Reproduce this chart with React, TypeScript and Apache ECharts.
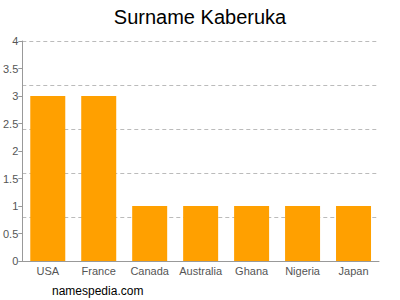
import React, { useEffect, useRef } from "react";
import * as echarts from "echarts";

const categories = ["USA", "France", "Canada", "Australia", "Ghana", "Nigeria", "Japan"];
const values = [3, 3, 1, 1, 1, 1, 1];
const titleText = "Surname Kaberuka";
const footerText = "namespedia.com";

export default function App() {
  const ref = useRef<HTMLDivElement>(null);
  useEffect(() => {
    if (!ref.current) return;
    const chart = echarts.init(ref.current, null, { renderer: "svg" });
    const font = "Liberation Sans, Arial, sans-serif";
    chart.setOption({
      animation: false,
      title: {
        text: titleText,
        left: "center",
        top: 2,
        textStyle: { fontFamily: font, fontSize: 20, fontWeight: "normal", color: "#000" },
      },
      graphic: [
        {
          type: "text",
          left: 52,
          top: 285,
          style: { text: footerText, fontFamily: font, fontSize: 12, fill: "#000" },
        },
      ],
      grid: { left: 21, right: 21, top: 41, bottom: 39, containLabel: false },
      xAxis: {
        type: "category",
        data: categories,
        axisLine: { lineStyle: { color: "#999" } },
        axisTick: { alignWithLabel: true, length: 4, lineStyle: { color: "#999" } },
        axisLabel: { interval: 0, fontFamily: font, fontSize: 11, color: "#555", margin: 4 },
      },
      yAxis: [
        {
          type: "value",
          min: 0,
          max: 4,
          interval: 0.5,
          axisLine: { show: true, lineStyle: { color: "#999" } },
          axisTick: { show: true, length: 4, lineStyle: { color: "#999" } },
          axisLabel: { fontFamily: font, fontSize: 11, color: "#555", margin: 4 },
          splitLine: { show: false },
        },
        {
          type: "value",
          min: 0,
          max: 4,
          interval: 0.8,
          position: "left",
          axisLine: { show: false },
          axisTick: { show: false },
          axisLabel: { show: false },
          splitLine: { show: true, lineStyle: { color: "#bbb", type: [4, 3], width: 1 } },
        },
      ],
      series: [
        {
          type: "bar",
          data: values,
          barWidth: 35,
          itemStyle: { color: "#FFA000" },
        },
      ],
    });
    return () => chart.dispose();
  }, []);
  return <div ref={ref} style={{ width: 400, height: 300, position: "absolute", left: 0, top: 0 }} />;
}
